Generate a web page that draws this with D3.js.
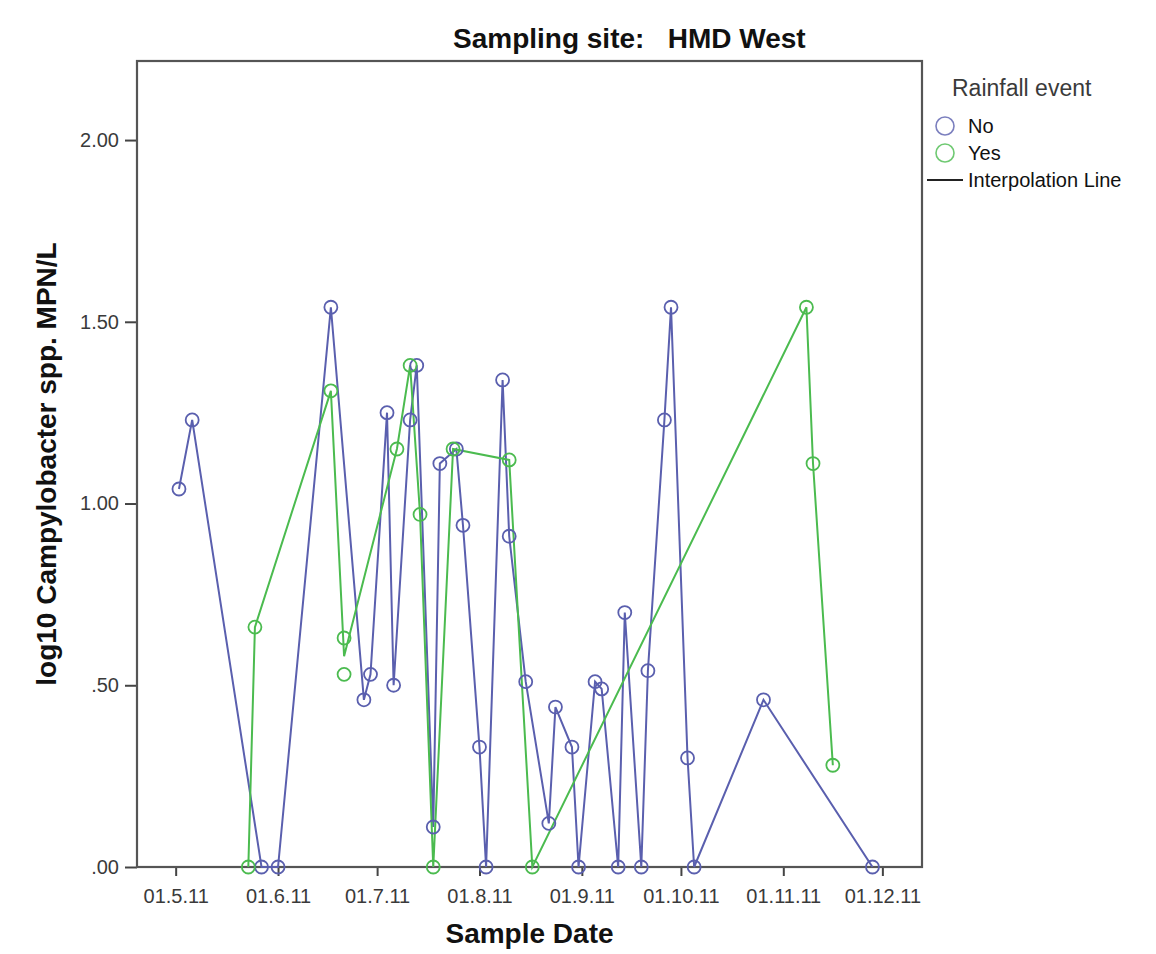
<!DOCTYPE html>
<html>
<head>
<meta charset="utf-8">
<script src="https://cdn.jsdelivr.net/npm/d3@7"></script>
<style>
  html, body { margin: 0; padding: 0; background: #fff; }
  svg { display: block; font-family: "Liberation Sans", Arial, sans-serif; }
</style>
</head>
<body>
<svg id="chart" width="1156" height="954"></svg>
<script>
// Sample dates and log10 counts, sites without rainfall ("No")
const noDates = [
  "2011-05-02","2011-05-06","2011-05-27","2011-06-01","2011-06-17","2011-06-27",
  "2011-06-29","2011-07-04","2011-07-06","2011-07-11","2011-07-13","2011-07-18",
  "2011-07-20","2011-07-25","2011-07-27","2011-08-01","2011-08-03","2011-08-08",
  "2011-08-10","2011-08-15","2011-08-22","2011-08-24","2011-08-29","2011-08-31",
  "2011-09-05","2011-09-07","2011-09-12","2011-09-14","2011-09-19","2011-09-21",
  "2011-09-26","2011-09-28","2011-10-03","2011-10-05","2011-10-26","2011-11-28"
];
const noValues = [
  1.04, 1.23, 0, 0, 1.54, 0.46,
  0.53, 1.25, 0.50, 1.23, 1.38, 0.11,
  1.11, 1.15, 0.94, 0.33, 0, 1.34,
  0.91, 0.51, 0.12, 0.44, 0.33, 0,
  0.51, 0.49, 0, 0.70, 0, 0.54,
  1.23, 1.54, 0.30, 0, 0.46, 0
];

// Samples taken after a rainfall event ("Yes")
const yesDates = [
  "2011-05-23","2011-05-25","2011-06-17","2011-06-21","2011-06-21","2011-07-07",
  "2011-07-11","2011-07-14","2011-07-18","2011-07-24","2011-08-10","2011-08-17",
  "2011-11-08","2011-11-10","2011-11-16"
];
const yesValues = [
  0, 0.66, 1.31, 0.63, 0.53, 1.15,
  1.38, 0.97, 0, 1.15, 1.12, 0,
  1.54, 1.11, 0.28
];

const xTickDates = ["2011-05-01","2011-06-01","2011-07-01","2011-08-01",
                    "2011-09-01","2011-10-01","2011-11-01","2011-12-01"];
const yTickValues = [0, 0.5, 1.0, 1.5, 2.0];

const seriesNames = ["No", "Yes"];
const seriesColors = ["#5a5fae", "#4bbb4f"];

const chartTitle = "Sampling site:   HMD West";
const xTitle = "Sample Date";
const yTitle = "log10 Campylobacter spp. MPN/L";
const legendTitle = "Rainfall event";
const legendLineLabel = "Interpolation Line";

const parse = d3.utcParse("%Y-%m-%d");
const plot = { left: 137, right: 922, top: 61, bottom: 867 };

const svg = d3.select("#chart");

const x = d3.scaleUtc()
  .domain([new Date(Date.UTC(2011, 3, 19, 7)), new Date(Date.UTC(2011, 11, 13, 0))])
  .range([plot.left, plot.right]);
const y = d3.scaleLinear()
  .domain([0, 2.2175])
  .range([plot.bottom, plot.top]);

const series = [
  { name: seriesNames[0], color: seriesColors[0],
    pts: noDates.map((d, i) => ({ date: parse(d), value: noValues[i] })) },
  { name: seriesNames[1], color: seriesColors[1],
    pts: yesDates.map((d, i) => ({ date: parse(d), value: yesValues[i] })) }
];

// Axes
const fmtDate = d3.utcFormat("%d.%-m.%y");
const xAxis = d3.axisBottom(x)
  .tickValues(xTickDates.map(parse))
  .tickFormat(fmtDate)
  .tickSize(9)
  .tickPadding(13);
const yAxis = d3.axisLeft(y)
  .tickValues(yTickValues)
  .tickFormat(v => d3.format(".2f")(v).replace(/^0\./, "."))
  .tickSize(12)
  .tickPadding(6);

const gx = svg.append("g")
  .attr("transform", `translate(0,${plot.bottom})`)
  .call(xAxis);
const gy = svg.append("g")
  .attr("transform", `translate(${plot.left},0)`)
  .call(yAxis);
[gx, gy].forEach(g => {
  g.select(".domain").remove();
  g.selectAll(".tick line").attr("stroke", "#444").attr("stroke-width", 2);
  g.selectAll(".tick text")
    .attr("fill", "#3a3a3a")
    .style("font-size", "20px")
    .style("font-family", '"Liberation Sans", Arial, sans-serif');
});

// Plot frame
svg.append("rect")
  .attr("x", plot.left).attr("y", plot.top)
  .attr("width", plot.right - plot.left)
  .attr("height", plot.bottom - plot.top)
  .attr("fill", "none")
  .attr("stroke", "#555")
  .attr("stroke-width", 2.2);

// Interpolation lines pass through the mean value of each sample date
const line = d3.line().x(d => x(d.date)).y(d => y(d.value));
series.forEach(s => {
  const byDate = d3.rollups(s.pts, v => d3.mean(v, p => p.value), p => +p.date)
    .map(([t, v]) => ({ date: new Date(t), value: v }))
    .sort((a, b) => a.date - b.date);
  svg.append("path")
    .datum(byDate)
    .attr("d", line)
    .attr("fill", "none")
    .attr("stroke", s.color)
    .attr("stroke-width", 2)
    .attr("stroke-linejoin", "miter");
});

// Sample markers
series.forEach(s => {
  svg.append("g")
    .selectAll("circle")
    .data(s.pts)
    .join("circle")
    .attr("cx", d => x(d.date))
    .attr("cy", d => y(d.value))
    .attr("r", 6.5)
    .attr("fill", "none")
    .attr("stroke", s.color)
    .attr("stroke-width", 1.8);
});

// Titles
svg.append("text")
  .attr("x", 453).attr("y", 48)
  .attr("font-size", 28).attr("font-weight", "bold")
  .attr("fill", "#111")
  .style("white-space", "pre")
  .text(chartTitle);

svg.append("text")
  .attr("x", (plot.left + plot.right) / 2).attr("y", 943)
  .attr("text-anchor", "middle")
  .attr("font-size", 28).attr("font-weight", "bold")
  .attr("fill", "#111")
  .text(xTitle);

svg.append("text")
  .attr("transform", `translate(56,${(plot.top + plot.bottom) / 2}) rotate(-90)`)
  .attr("text-anchor", "middle")
  .attr("font-size", 28).attr("font-weight", "bold")
  .attr("fill", "#111")
  .text(yTitle);

// Legend
const lg = svg.append("g");
lg.append("text")
  .attr("x", 952).attr("y", 96)
  .attr("font-size", 23)
  .attr("fill", "#3a3a3a")
  .text(legendTitle);
series.forEach((s, i) => {
  const cy = 126 + i * 27;
  lg.append("circle")
    .attr("cx", 945).attr("cy", cy).attr("r", 9)
    .attr("fill", "none").attr("stroke", s.color).attr("stroke-width", 1.6)
    .attr("stroke-opacity", 0.8);
  lg.append("text")
    .attr("x", 968).attr("y", cy + 7)
    .attr("font-size", 20).attr("fill", "#111")
    .text(s.name);
});
lg.append("line")
  .attr("x1", 927).attr("x2", 963).attr("y1", 180).attr("y2", 180)
  .attr("stroke", "#222").attr("stroke-width", 2);
lg.append("text")
  .attr("x", 968).attr("y", 187)
  .attr("font-size", 20).attr("fill", "#111")
  .text(legendLineLabel);
</script>
</body>
</html>
